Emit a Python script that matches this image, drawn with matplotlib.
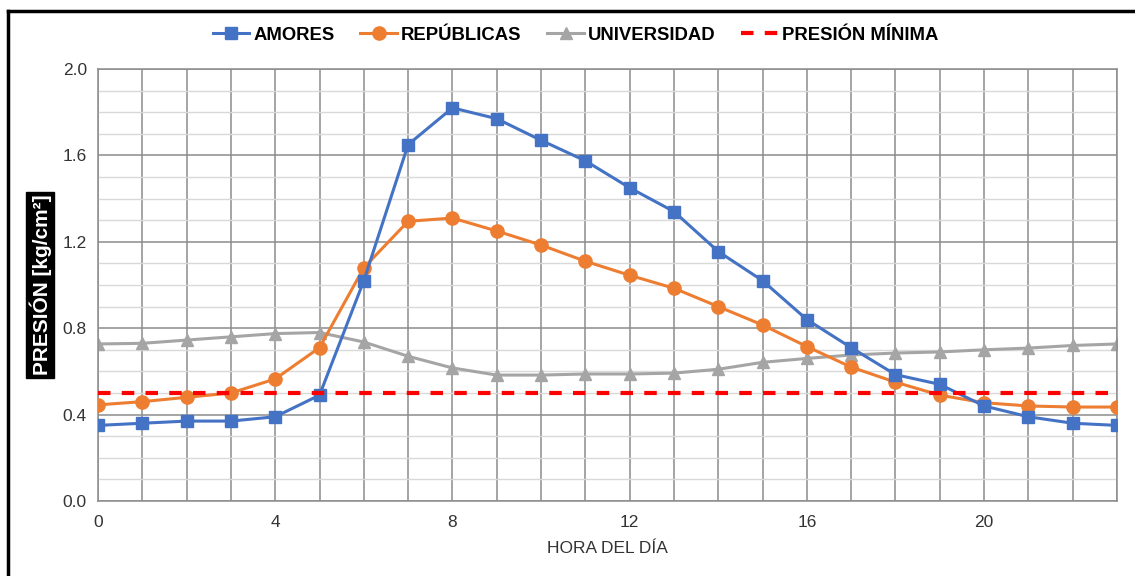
import matplotlib
matplotlib.use("Agg")
import matplotlib.pyplot as plt
from matplotlib.lines import Line2D
from matplotlib.ticker import MultipleLocator

plt.rcParams['font.family'] = ['Liberation Sans', 'DejaVu Sans']

hours = list(range(24))
amores = [0.35, 0.36, 0.37, 0.37, 0.39, 0.49, 1.02, 1.65, 1.82, 1.77, 1.67, 1.575,
          1.45, 1.34, 1.155, 1.02, 0.84, 0.71, 0.585, 0.54, 0.44, 0.39, 0.36, 0.35]
republicas = [0.445, 0.46, 0.48, 0.50, 0.565, 0.71, 1.08, 1.295, 1.31, 1.25, 1.185, 1.11,
              1.045, 0.985, 0.90, 0.815, 0.715, 0.62, 0.55, 0.49, 0.455, 0.44, 0.435, 0.435]
universidad = [0.727, 0.73, 0.745, 0.76, 0.775, 0.78, 0.736, 0.67, 0.616, 0.583, 0.583, 0.588,
               0.588, 0.592, 0.61, 0.642, 0.66, 0.676, 0.685, 0.69, 0.70, 0.708, 0.72, 0.727]
presion_minima = 0.5
series_names = ['AMORES', 'REPÚBLICAS', 'UNIVERSIDAD', 'PRESIÓN MÍNIMA']

fig = plt.figure(figsize=(11.35, 5.76), dpi=100)
ax = fig.add_axes([98/1135, 1-501/576, (1117-98)/1135, (501-69)/576])

ax.plot(hours, amores, color='#4472C4', lw=2.2, marker='s', ms=9, label=series_names[0], zorder=4)
ax.plot(hours, republicas, color='#ED7D31', lw=2.2, marker='o', ms=9.5, label=series_names[1], zorder=3)
ax.plot(hours, universidad, color='#A5A5A5', lw=2.2, marker='^', ms=8.5, label=series_names[2], zorder=2)
ax.plot([hours[0], hours[-1]], [presion_minima, presion_minima], color='#FF0000', lw=3,
        ls=(0, (3, 2.7)), label=series_names[3], zorder=5)

ax.set_xlim(0, 23)
ax.set_ylim(0, 2.0)
ax.xaxis.set_major_locator(MultipleLocator(4))
ax.xaxis.set_minor_locator(MultipleLocator(1))
ax.yaxis.set_major_locator(MultipleLocator(0.4))
ax.yaxis.set_minor_locator(MultipleLocator(0.1))
ax.yaxis.set_major_formatter(matplotlib.ticker.FormatStrFormatter('%.1f'))

ax.grid(which='major', axis='both', color='#8C8C8C', lw=1.1)
ax.grid(which='minor', axis='x', color='#8C8C8C', lw=1.1)
ax.grid(which='minor', axis='y', color='#D9D9D9', lw=1.0)
ax.set_axisbelow(True)
ax.tick_params(which='both', length=0, labelsize=12.5, colors='#333333', pad=8)
ax.tick_params(axis='x', pad=10)
for s in ax.spines.values():
    s.set_color('#8C8C8C')
    s.set_linewidth(1.1)

ax.set_xlabel('HORA DEL DÍA', fontsize=12.5, color='#333333', labelpad=8)
ax.set_ylabel('PRESIÓN [kg/cm²]', fontsize=15, fontweight='bold', color='white',
              bbox=dict(facecolor='black', edgecolor='black', pad=2), labelpad=8)

leg = fig.legend(loc='center', bbox_to_anchor=(0.507, 1-35/576), ncol=4, frameon=False,
                 prop={'weight': 'bold', 'size': 13.3}, handlelength=2.0, columnspacing=1.4,
                 handletextpad=0.2)

# figure border lines (top and left)
fig.add_artist(Line2D([8/1135, 1.0], [1-11/576, 1-11/576], color='black', lw=2.5, transform=fig.transFigure))
fig.add_artist(Line2D([8/1135, 8/1135], [0, 1-11/576], color='black', lw=2.5, transform=fig.transFigure))

fig.savefig('out.png', dpi=100)
